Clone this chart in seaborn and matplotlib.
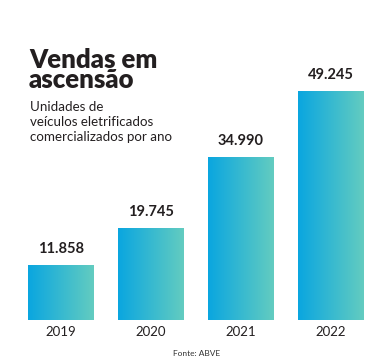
import numpy as np
import pandas as pd
import matplotlib
matplotlib.use("Agg")
import matplotlib.pyplot as plt
import seaborn as sns
from matplotlib.colors import LinearSegmentedColormap

# ---------- data ----------
anos = ["2019", "2020", "2021", "2022"]
vendas = [11858, 19745, 34990, 49245]
rotulos = ["11.858", "19.745", "34.990", "49.245"]

df = pd.DataFrame({"ano": anos, "vendas": vendas})

sns.set_style("white")
plt.rcParams["font.family"] = ["Lato", "DejaVu Sans"]

fig = plt.figure(figsize=(3.79, 3.62), dpi=100)
ax = fig.add_axes([16 / 379, 42 / 362, 360 / 379, 260 / 362])

sns.barplot(data=df, x="ano", y="vendas", color="#0ea5df", width=0.733, ax=ax,
            saturation=1)

# gradient fill on each bar (blue -> teal)
cmap = LinearSegmentedColormap.from_list("grad", ["#0aa6e0", "#63ccc0"])
grad = np.linspace(0, 1, 256).reshape(1, -1)
for p in ax.patches:
    x0, y0 = p.get_x(), p.get_y()
    w, h = p.get_width(), p.get_height()
    im = ax.imshow(grad, cmap=cmap, aspect="auto", extent=[x0, x0 + w, y0, y0 + h],
                   zorder=p.get_zorder() + 0.1)
    im.set_clip_path(p)
    p.set_facecolor("none")
    p.set_edgecolor("none")

ax.set_xlim(-0.5, 3.5)
ax.set_ylim(0, 55900)

for i, (v, lab) in enumerate(zip(vendas, rotulos)):
    ax.text(i, v + 1900, lab, ha="center", va="bottom", fontsize=10.5,
            fontweight="bold", color="#231f20")

ax.set_xlabel("")
ax.set_ylabel("")
ax.set_yticks([])
ax.tick_params(axis="x", length=0, pad=4, labelsize=9.5, labelcolor="#231f20")
sns.despine(ax=ax, left=True, bottom=True)

# title block
fig.text(29 / 379, 1 - 48 / 362, "Vendas em\nascensão", ha="left", va="top",
         fontsize=18.5, fontweight="heavy", color="#231f20", linespacing=0.8)
fig.text(30 / 379, 1 - 101 / 362,
         "Unidades de\nveículos eletrificados\ncomercializados por ano",
         ha="left", va="top", fontsize=9.6, color="#231f20", linespacing=1.3)

fig.text(197 / 379, 1 - 353 / 362, "Fonte: ABVE", ha="center", va="center",
         fontsize=6, color="#333333")

fig.savefig("out.png", dpi=100, facecolor="white")
